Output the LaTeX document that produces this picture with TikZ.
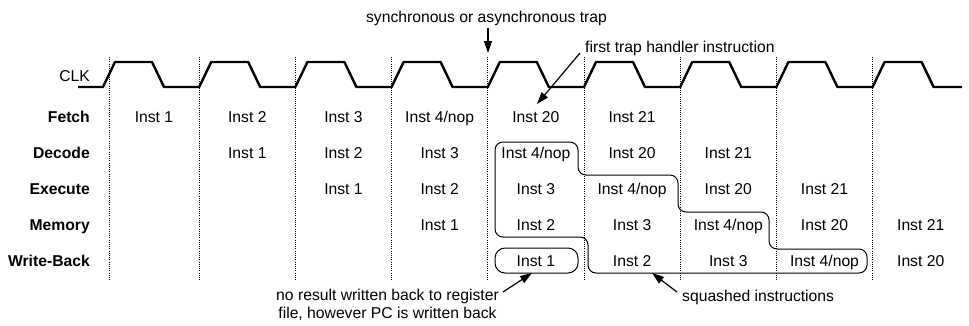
\documentclass[tikz,border=0pt]{standalone}
\usepackage{fontspec}
\setmainfont{Liberation Sans}
\usetikzlibrary{arrows.meta}
\begin{document}
\begin{tikzpicture}[x=1pt,y=-1pt,
  txt/.style={font=\fontsize{15.7}{18}\selectfont, inner sep=0pt, anchor=base},
  lbl/.style={font=\fontsize{15.7}{18}\selectfont\bfseries, inner sep=0pt, anchor=base east},
  clk/.style={line width=2.4pt, line join=round},
  gridline/.style={line width=0.9pt, dash pattern=on 0.9pt off 1.3pt},
  outl/.style={line width=1pt, rounded corners=8pt},
  arr/.style={line width=1.2pt, -{Triangle[length=12pt,width=8pt]}}
]
\useasboundingbox (0,0) rectangle (969,325);

% clock
\node[txt, anchor=base east] (clk) at (90,81.7) {CLK};
\draw[clk] (78,87) -- (103,87) -- (115,62) -- (152,62) -- (164,87)
 -- (199.2,87) -- (211.2,62) -- (248.2,62) -- (260.2,87)
 -- (295.4,87) -- (307.4,62) -- (344.4,62) -- (356.4,87)
 -- (391.6,87) -- (403.6,62) -- (440.6,62) -- (452.6,87)
 -- (487.8,87) -- (499.8,62) -- (536.8,62) -- (548.8,87)
 -- (584,87) -- (596,62) -- (633,62) -- (645,87)
 -- (680.2,87) -- (692.2,62) -- (729.2,62) -- (741.2,87)
 -- (776.4,87) -- (788.4,62) -- (825.4,62) -- (837.4,87)
 -- (872.6,87) -- (884.6,62) -- (921.6,62) -- (933.6,87)
 -- (962,87);

% dotted cycle boundaries
\foreach \x in {109,199.2,295.4,391.6,487.8,584,680.2,776.4,872.6}
  \draw[gridline] (\x,57) -- (\x,280);

% stage labels
\node[lbl] (lF) at (90,122.7) {Fetch};
\node[lbl] (lD) at (90,158.7) {Decode};
\node[lbl] (lE) at (90,194.7) {Execute};
\node[lbl] (lM) at (90,230.7) {Memory};
\node[lbl] (lW) at (90,266.7) {Write-Back};

% Fetch
\node[txt] (F1) at (154,122.7) {Inst 1};
\node[txt] (F2) at (247.3,122.7) {Inst 2};
\node[txt] (F3) at (343.5,122.7) {Inst 3};
\node[txt] (F4) at (439.7,122.7) {Inst 4/nop};
\node[txt] (F5) at (535.9,122.7) {Inst 20};
\node[txt] (F6) at (632.1,122.7) {Inst 21};
% Decode
\node[txt] (D2) at (247.3,158.7) {Inst 1};
\node[txt] (D3) at (343.5,158.7) {Inst 2};
\node[txt] (D4) at (439.7,158.7) {Inst 3};
\node[txt] (D5) at (535.9,158.7) {Inst 4/nop};
\node[txt] (D6) at (632.1,158.7) {Inst 20};
\node[txt] (D7) at (728.3,158.7) {Inst 21};
% Execute
\node[txt] (E3) at (343.5,194.7) {Inst 1};
\node[txt] (E4) at (439.7,194.7) {Inst 2};
\node[txt] (E5) at (535.9,194.7) {Inst 3};
\node[txt] (E6) at (632.1,194.7) {Inst 4/nop};
\node[txt] (E7) at (728.3,194.7) {Inst 20};
\node[txt] (E8) at (824.5,194.7) {Inst 21};
% Memory
\node[txt] (M4) at (439.7,230.7) {Inst 1};
\node[txt] (M5) at (535.9,230.7) {Inst 2};
\node[txt] (M6) at (632.1,230.7) {Inst 3};
\node[txt] (M7) at (728.3,230.7) {Inst 4/nop};
\node[txt] (M8) at (824.5,230.7) {Inst 20};
\node[txt] (M9) at (920.7,230.7) {Inst 21};
% Write-Back
\node[txt] (W5) at (535.9,266.7) {Inst 1};
\node[txt] (W6) at (632.1,266.7) {Inst 2};
\node[txt] (W7) at (728.3,266.7) {Inst 3};
\node[txt] (W8) at (824.5,266.7) {Inst 4/nop};
\node[txt] (W9) at (920.7,266.7) {Inst 20};

% outlines
\node[draw, line width=1pt, rounded corners=10pt, minimum width=83pt, minimum height=25pt, inner sep=0pt] (box1) at (536.5,260.5) {};
\draw[outl] (495,142) -- (495,237) -- (588,237) -- (588,273) -- (867,273)
  -- (867,249) -- (769,249) -- (769,212) -- (678,212) -- (678,175)
  -- (578,175) -- (578,142) -- cycle;

% annotations
\node[txt] (trap) at (486.5,22) {synchronous or asynchronous trap};
\coordinate (trapTail) at (488,28);
\coordinate (trapTip) at (488,53);
\draw[arr] (trapTail) -- (trapTip);

\node[txt, anchor=base west] (first) at (585,52) {first trap handler instruction};
\coordinate (firstTail) at (580,53);
\coordinate (firstTip) at (537,104);
\draw[arr] (firstTail) -- (firstTip);

\node[txt, anchor=north, align=center] (nores) at (387.5,288.7) {no result written back to register\\file, however PC is written back};
\coordinate (noresTail) at (503,292);
\coordinate (noresTip) at (532,273);
\draw[arr] (noresTail) -- (noresTip);

\node[txt, anchor=base west] (squash) at (682,301) {squashed instructions};
\coordinate (squashTail) at (677,292);
\coordinate (squashTip) at (652,273);
\draw[arr] (squashTail) -- (squashTip);
\end{tikzpicture}
\end{document}
